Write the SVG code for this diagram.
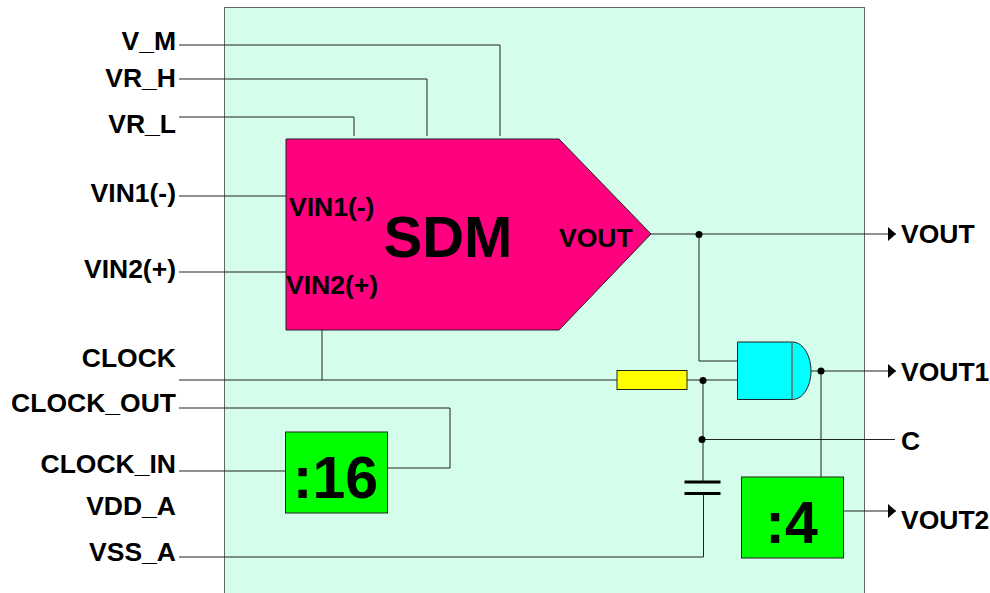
<svg xmlns="http://www.w3.org/2000/svg" width="990" height="593" viewBox="0 0 990 593">
<style>
.l{font-family:"Liberation Sans",Arial,sans-serif;font-weight:bold;font-size:26.500px;fill:#000}
.b{font-family:"Liberation Sans",Arial,sans-serif;font-weight:bold;text-anchor:middle;fill:#000}
.e{text-anchor:end}
.w{fill:none;stroke:#222;stroke-width:1}
.s{stroke:#222;stroke-width:1}
</style>
<defs>
<marker id="a" markerUnits="userSpaceOnUse" markerWidth="9" markerHeight="14" refX="8" refY="7" orient="auto"><path d="M0 0L8 7L0 14Z" fill="#000"/></marker>
</defs>
<rect width="990" height="593" fill="#fff"/>
<rect id="chip" x="224.500" y="7.500" width="640" height="600" fill="#d4fdec" stroke="#666"/>
<g id="connectors">
<path class="w" d="M179 45H500V136"/>
<path class="w" d="M179 79H427V136"/>
<path class="w" d="M179 117H354V136"/>
<path class="w" d="M179 196H286"/>
<path class="w" d="M179 272H286"/>
<path class="w" d="M179 380H617"/>
<path class="w" d="M322 330V380"/>
<path class="w" d="M179 408H450V468H387"/>
<path class="w" d="M179 471H286"/>
<path class="w" d="M179 557H703.500V493"/>
<path class="w" d="M687 380H738"/>
<path class="w" d="M703 380V482"/>
<path class="w" d="M703 439.500H895"/>
<path class="w" d="M651 234H896" marker-end="url(#a)"/>
<path class="w" d="M699 234V361H738"/>
<path class="w" d="M810 371H896" marker-end="url(#a)"/>
<path class="w" d="M821 371V477"/>
<path class="w" d="M843 511H896" marker-end="url(#a)"/>
<path d="M684.500 482H720.500M684.500 493.500H720.500" fill="none" stroke="#000" stroke-width="3"/>
<circle cx="699" cy="234.500" r="3.500"/><circle cx="703" cy="380.500" r="3.500"/><circle cx="702" cy="439.500" r="3.500"/><circle cx="821" cy="371" r="3.500"/>
</g>
<g id="sdm"><path class="s" fill="#ff007f" d="M286 139H559L651 234L559 330H286Z"/>
<text class="b" x="448" y="257" font-size="58">SDM</text>
<text class="l" x="289" y="216">VIN1(-)</text><text class="l" x="286" y="294">VIN2(+)</text><text class="l" x="559" y="247">VOUT</text></g>
<g id="resistor"><rect class="s" x="617" y="370.500" width="70" height="19" fill="#ff0"/></g>
<g id="and"><path class="s" fill="#0ff" d="M737.500 342H792C804 342 811 357 811 371C811 385 804 399.500 792 399.500H737.500Z"/><path d="M792 342V399.500" fill="none" stroke="#666" stroke-width="1.500"/></g>
<g id="div16"><rect class="s" x="285.500" y="432" width="102" height="81" fill="#0f0"/><text class="b" x="335.500" y="498" font-size="59">:16</text></g>
<g id="div4"><rect class="s" x="741.500" y="477" width="102" height="81" fill="#0f0"/><text class="b" x="791.500" y="543" font-size="59">:4</text></g>
<g id="labels">
<text class="l e" x="176" y="50">V_M</text><text class="l e" x="176" y="87">VR_H</text><text class="l e" x="176" y="133">VR_L</text><text class="l e" x="176" y="202">VIN1(-)</text><text class="l e" x="176" y="278">VIN2(+)</text><text class="l e" x="176" y="367">CLOCK</text><text class="l e" x="176" y="412">CLOCK_OUT</text><text class="l e" x="176" y="473">CLOCK_IN</text><text class="l e" x="176" y="515">VDD_A</text><text class="l e" x="176" y="561">VSS_A</text>
<text class="l" x="901" y="243">VOUT</text><text class="l" x="901" y="381">VOUT1</text><text class="l" x="901" y="450">C</text><text class="l" x="901" y="529">VOUT2</text>
</g>
</svg>
